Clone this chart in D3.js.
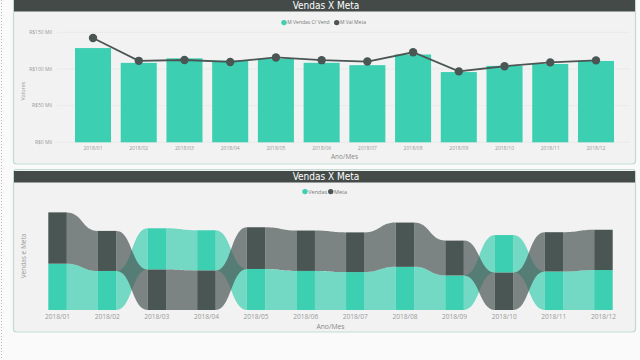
<!DOCTYPE html>
<html>
<head>
<meta charset="utf-8">
<script src="https://cdn.jsdelivr.net/npm/d3@7"></script>
<style>
  body { margin: 0; background: #fafafa; }
  svg { display: block; font-family: "Open Sans", sans-serif; }
</style>
</head>
<body>
<svg id="chart" width="640" height="360"></svg>
<script>
const months = ["2018/01", "2018/02", "2018/03", "2018/04", "2018/05", "2018/06",
                "2018/07", "2018/08", "2018/09", "2018/10", "2018/11", "2018/12"];
// values in R$ Mil
const vendas = [128.5, 108.3, 114.5, 111.5, 113.8, 108.4, 105.2, 119.7, 95.8, 104.2, 106.8, 110.9];
const meta   = [142.3, 111.1, 112.2, 109.6, 115.7, 112.0, 110.1, 122.8, 96.7, 103.7, 109.0, 111.7];
const yTicks = [0, 50, 100, 150];
const topLegend = ["M Vendas C/ Vend", "M Val Meta"];
const bottomLegend = ["Vendas", "Meta"];

const teal = "#3dcfb1", dark = "#4a5654", barDark = "#434a48";
const svg = d3.select("#chart");

// dotted edge at the very left of the screen
svg.append("line")
  .attr("x1", 1.5).attr("x2", 1.5).attr("y1", 0).attr("y2", 360)
  .attr("stroke", "#bbb").attr("stroke-dasharray", "1,2");

function panel(y0, y1, barY, title) {
  svg.append("rect")
    .attr("x", 13.5).attr("y", y0).attr("width", 622).attr("height", y1 - y0)
    .attr("rx", 3).attr("fill", "#f2f2f2")
    .attr("stroke", "#c2dbd3").attr("stroke-width", 1.2);
  svg.append("rect")
    .attr("x", 14).attr("y", barY).attr("width", 621).attr("height", 11.5)
    .attr("fill", barDark);
  svg.append("text")
    .attr("x", 326).attr("y", barY + 9.3)
    .attr("text-anchor", "middle")
    .attr("font-family", "DejaVu Sans Condensed, sans-serif")
    .attr("font-size", 10).attr("fill", "#fff")
    .text(title);
}

function legend(items, xs, y, size) {
  const colors = [teal, dark];
  items.forEach((t, i) => {
    svg.append("circle").attr("cx", xs[i]).attr("cy", y).attr("r", 2.7).attr("fill", colors[i]);
    svg.append("text").attr("x", xs[i] + 3.3).attr("y", y + size * 0.35)
      .attr("font-size", size).attr("fill", "#777").text(t);
  });
}

// ---------- top: bars + line ----------
panel(-3, 164, 0, "Vendas X Meta");
legend(topLegend, [284, 336.7], 22.6, 5);

const x1 = d3.scaleBand().domain(months).range([75, 614]).paddingInner(0.212).paddingOuter(0);
const y1 = d3.scaleLinear().domain([0, 150]).range([142.3, 32.3]);

const g1 = svg.append("g");
g1.selectAll(".grid").data(yTicks).enter().append("line")
  .attr("x1", 57).attr("x2", 630)
  .attr("y1", d => y1(d)).attr("y2", d => y1(d))
  .attr("stroke", "#e4e4e4").attr("stroke-width", 0.6);

g1.selectAll(".ytick").data(yTicks).enter().append("text")
  .attr("x", 52).attr("y", d => y1(d)).attr("dy", "0.35em")
  .attr("text-anchor", "end").attr("font-size", 5).attr("fill", "#999")
  .text(d => "R$" + d + " Mil");

g1.append("text")
  .attr("transform", "translate(25,91) rotate(-90)")
  .attr("text-anchor", "middle").attr("font-size", 5.5).attr("fill", "#999")
  .text("Valores");

g1.selectAll(".bar").data(months).enter().append("rect")
  .attr("x", d => x1(d)).attr("width", x1.bandwidth())
  .attr("y", (d, i) => y1(vendas[i]))
  .attr("height", (d, i) => y1(0) - y1(vendas[i]))
  .attr("fill", teal);

const line = d3.line()
  .x((d, i) => x1(months[i]) + x1.bandwidth() / 2)
  .y(d => y1(d));
g1.append("path").datum(meta)
  .attr("d", line).attr("fill", "none")
  .attr("stroke", dark).attr("stroke-width", 1.8);
g1.selectAll(".pt").data(meta).enter().append("circle")
  .attr("cx", (d, i) => x1(months[i]) + x1.bandwidth() / 2)
  .attr("cy", d => y1(d)).attr("r", 4.2).attr("fill", dark);

g1.selectAll(".xl").data(months).enter().append("text")
  .attr("x", d => x1(d) + x1.bandwidth() / 2).attr("y", 149.7)
  .attr("text-anchor", "middle").attr("font-size", 5).attr("fill", "#999")
  .text(d => d);
g1.append("text").attr("x", 344.5).attr("y", 159)
  .attr("text-anchor", "middle").attr("font-size", 6.5).attr("fill", "#888")
  .text("Ano/Mes");

// ---------- bottom: ribbon chart ----------
panel(169.5, 332, 171, "Vendas X Meta");
legend(bottomLegend, [305, 330.7], 191.6, 5.5);

const x2 = d3.scaleBand().domain(months).range([48.3, 612.7]).paddingInner(0.627).paddingOuter(0);
const y2 = d3.scaleLinear().domain([0, 300]).range([310, 310 - 300 * 0.3605]);

// stack per month: higher value on top
const stacks = months.map((m, i) => {
  const v = vendas[i], mt = meta[i];
  const vTop = v >= mt;
  const lower = vTop ? mt : v;
  return {
    vendas: vTop ? [mt, mt + v] : [0, v],
    meta: vTop ? [0, mt] : [v, v + mt]
  };
});

const g2 = svg.append("g");

function ribbon(key, i) {
  const a = stacks[i][key], b = stacks[i + 1][key];
  const xa = x2(months[i]) + x2.bandwidth(), xb = x2(months[i + 1]);
  const xm = (xa + xb) / 2;
  const p = d3.path();
  p.moveTo(xa, y2(a[1]));
  p.bezierCurveTo(xm, y2(a[1]), xm, y2(b[1]), xb, y2(b[1]));
  p.lineTo(xb, y2(b[0]));
  p.bezierCurveTo(xm, y2(b[0]), xm, y2(a[0]), xa, y2(a[0]));
  p.closePath();
  return p.toString();
}

const idx = d3.range(months.length - 1);
g2.selectAll(".rv").data(idx).enter().append("path")
  .attr("d", i => ribbon("vendas", i)).attr("fill", teal).attr("fill-opacity", 0.7);
g2.selectAll(".rm").data(idx).enter().append("path")
  .attr("d", i => ribbon("meta", i)).attr("fill", dark).attr("fill-opacity", 0.7);

g2.selectAll(".cv").data(months).enter().append("rect")
  .attr("x", d => x2(d)).attr("width", x2.bandwidth())
  .attr("y", (d, i) => y2(stacks[i].vendas[1]))
  .attr("height", (d, i) => y2(stacks[i].vendas[0]) - y2(stacks[i].vendas[1]))
  .attr("fill", teal);
g2.selectAll(".cm").data(months).enter().append("rect")
  .attr("x", d => x2(d)).attr("width", x2.bandwidth())
  .attr("y", (d, i) => y2(stacks[i].meta[1]))
  .attr("height", (d, i) => y2(stacks[i].meta[0]) - y2(stacks[i].meta[1]))
  .attr("fill", dark);

g2.selectAll(".xl2").data(months).enter().append("text")
  .attr("x", d => x2(d) + x2.bandwidth() / 2).attr("y", 319.2)
  .attr("text-anchor", "middle").attr("font-size", 6.6).attr("fill", "#999")
  .text(d => d);
g2.append("text").attr("x", 330.5).attr("y", 328.6)
  .attr("text-anchor", "middle").attr("font-size", 6.8).attr("fill", "#888")
  .text("Ano/Mes");
g2.append("text")
  .attr("transform", "translate(26,256) rotate(-90)")
  .attr("text-anchor", "middle").attr("font-size", 6.5).attr("fill", "#999")
  .text("Vendas e Meta");
</script>
</body>
</html>
